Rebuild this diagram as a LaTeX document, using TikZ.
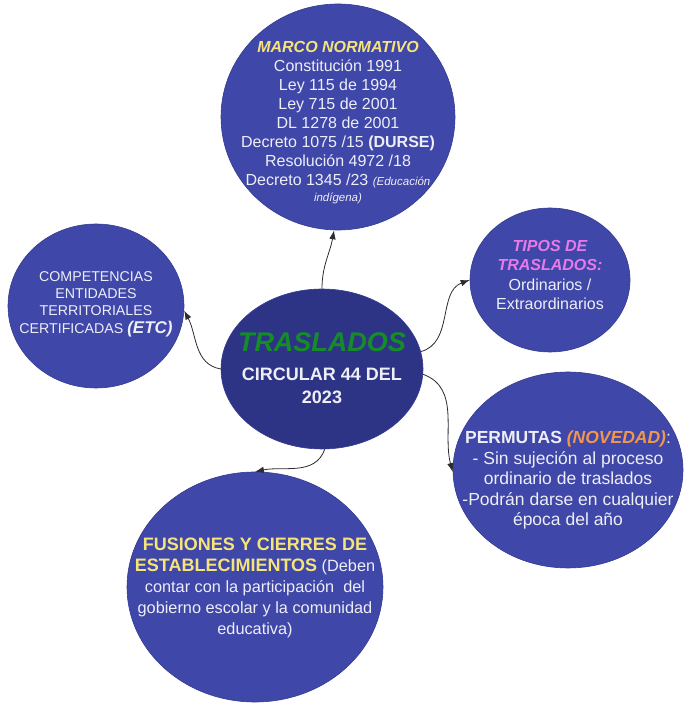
\documentclass[tikz,border=0pt]{standalone}
\usepackage{fontspec}
\setmainfont{Liberation Sans}
\usetikzlibrary{shapes.geometric,arrows.meta}

\definecolor{bubblefill}{RGB}{63,71,168}
\definecolor{bubbleedge}{RGB}{52,58,145}
\definecolor{hubfill}{RGB}{46,52,133}
\definecolor{txtwhite}{RGB}{238,238,246}
\definecolor{yel}{RGB}{246,228,122}
\definecolor{pnk}{RGB}{232,122,232}
\definecolor{org}{RGB}{240,150,80}
\definecolor{grn}{RGB}{22,140,40}
\definecolor{arrgray}{RGB}{45,45,45}

\begin{document}
\begin{tikzpicture}[x=1pt,y=1pt,
  bubble/.style={ellipse,fill=bubblefill,draw=bubbleedge,line width=0.6pt,inner sep=0pt},
  txt/.style={text=txtwhite,align=center,inner sep=0pt},
  arr/.style={draw=arrgray,line width=0.8pt,-{Latex[length=9pt,width=6.5pt]}}]

\fill[white] (0,0) rectangle (699,712);
\useasboundingbox (0,0) rectangle (699,712);

\node (v0) at (322,343) [bubble,fill=hubfill,minimum width=202pt,minimum height=160pt] {};
\node (v1) at (338,595) [bubble,minimum width=234pt,minimum height=226pt] {};
\node (v2) at (96,406) [bubble,minimum width=176pt,minimum height=164pt] {};
\node (v3) at (550,432) [bubble,minimum width=160pt,minimum height=144pt] {};
\node (v4) at (568,242) [bubble,minimum width=230pt,minimum height=196pt] {};
\node (v5) at (255,125) [bubble,minimum width=256pt,minimum height=230pt] {};

% texts
\node [txt,font=\fontsize{18}{23}\selectfont\bfseries] (t0) at (322,344) {{\fontsize{27}{30}\selectfont\itshape\color{grn}TRASLADOS}\\[6pt]
  CIRCULAR 44 DEL\\ 2023};

\node [txt,font=\fontsize{16}{19}\selectfont] (t1) at (338,589) {{\bfseries\itshape\color{yel}MARCO NORMATIVO}\\
  Constitución 1991\\ Ley 115 de 1994\\ Ley 715 de 2001\\ DL 1278 de 2001\\
  Decreto 1075 /15 \textbf{(DURSE)}\\ Resolución 4972 /18\\
  Decreto 1345 /23 {\fontsize{11.5}{15}\selectfont\itshape (Educación}\\[-3pt]
  {\fontsize{11.5}{15}\selectfont\itshape indígena)}};

\node [txt,font=\fontsize{14.2}{17.3}\selectfont] (t2) at (96,408) {COMPETENCIAS\\ ENTIDADES\\ TERRITORIALES\\
  CERTIFICADAS {\fontsize{17}{17}\selectfont\bfseries\itshape (ETC)}};

\node [txt,font=\fontsize{16}{19.5}\selectfont] (t3) at (550,437) {{\bfseries\itshape\color{pnk}TIPOS DE}\\
  {\bfseries\itshape\color{pnk}TRASLADOS:}\\ Ordinarios /\\ Extraordinarios};

\node [txt,font=\fontsize{17.5}{20.5}\selectfont] (t4) at (568,232) {{\bfseries PERMUTAS {\itshape\color{org}(NOVEDAD)}}:\\
  - Sin sujeción al proceso\\ ordinario de traslados\\ -Podrán darse en cualquier\\ época del año};

\node [txt,font=\fontsize{16.3}{21}\selectfont] (t5) at (255,124) {{\fontsize{18}{21}\selectfont\bfseries\color{yel}FUSIONES Y CIERRES DE}\\
  {\fontsize{18}{21}\selectfont\bfseries\color{yel}ESTABLECIMIENTOS} (Deben\\
  contar con la participación\ \ del\\ gobierno escolar y la comunidad\\ educativa)};

% connectors
\draw [arr] (v0.north) to[out=90,in=-100] (v1.-92);
\draw [arr] (v0.west) to[out=170,in=-62] (v2.-3);
\draw [arr] (v0.10) to[out=15,in=200] (v3.west);
\draw [arr] (v0.-3) to[out=-20,in=105] (v4.181);
\draw [arr] (v0.-88) to[out=-110,in=12] (v5.north);

\end{tikzpicture}
\end{document}
